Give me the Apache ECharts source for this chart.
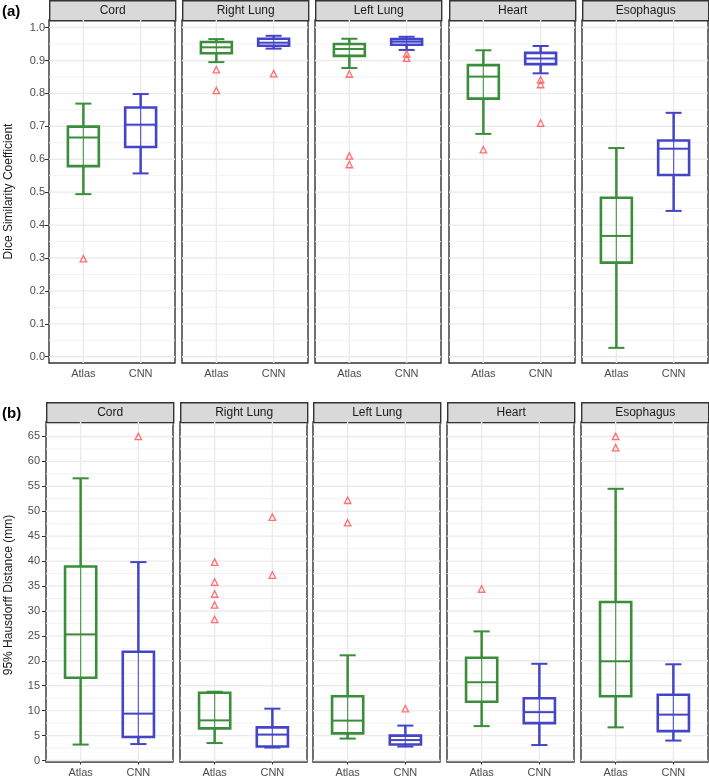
<!DOCTYPE html>
<html>
<head>
<meta charset="utf-8">
<script src="https://cdn.jsdelivr.net/npm/echarts@6/dist/echarts.min.js"></script>
<style>
html,body{margin:0;padding:0;background:#fff;}
#chart{width:709px;height:778px;}
</style>
</head>
<body>
<div id="chart"></div>
<script>
// ---------- data ----------
const organs = ['Cord', 'Right Lung', 'Left Lung', 'Heart', 'Esophagus'];
const methods = ['Atlas', 'CNN'];

// Dice: [lower whisker, Q1, median, Q3, upper whisker] per organ
const diceAtlas = [
  [0.494, 0.579, 0.666, 0.699, 0.769],
  [0.895, 0.922, 0.940, 0.956, 0.965],
  [0.877, 0.914, 0.935, 0.950, 0.966],
  [0.677, 0.784, 0.851, 0.886, 0.931],
  [0.027, 0.286, 0.367, 0.483, 0.634]
];
const diceCNN = [
  [0.557, 0.637, 0.705, 0.757, 0.798],
  [0.936, 0.945, 0.954, 0.966, 0.975],
  [0.932, 0.948, 0.957, 0.965, 0.972],
  [0.861, 0.889, 0.906, 0.923, 0.944],
  [0.443, 0.552, 0.632, 0.657, 0.741]
];
const diceAtlasOutliers = [[0.298], [0.872, 0.809], [0.859, 0.610, 0.584], [0.629], []];
const diceCNNOutliers = [[], [0.860], [0.920, 0.907], [0.841, 0.827, 0.710], []];

// 95% Hausdorff distance (mm)
const hdAtlas = [
  [3.2, 16.6, 25.3, 38.9, 56.6],
  [3.5, 6.45, 8.05, 13.6, 13.8],
  [4.4, 5.45, 8.0, 12.9, 21.1],
  [6.9, 11.8, 15.7, 20.6, 25.9],
  [6.65, 12.9, 19.9, 31.8, 54.5]
];
const hdCNN = [
  [3.3, 4.7, 9.4, 21.8, 39.8],
  [2.6, 2.8, 5.2, 6.65, 10.4],
  [2.8, 3.2, 4.1, 5.0, 7.0],
  [3.1, 7.5, 9.7, 12.5, 19.4],
  [4.0, 5.9, 9.2, 13.2, 19.3]
];
const hdAtlasOutliers = [[], [39.8, 35.8, 33.4, 31.2, 28.3], [52.2, 47.7], [34.4], [65.0, 62.75]];
const hdCNNOutliers = [[65.0], [48.8, 37.2], [10.4], [], []];

const diceTicks = [0, 0.1, 0.2, 0.3, 0.4, 0.5, 0.6, 0.7, 0.8, 0.9, 1.0];
const hdTicks = [0, 5, 10, 15, 20, 25, 30, 35, 40, 45, 50, 55, 60, 65];

const diceTitle = 'Dice Similarity Coefficient';
const hdTitle = '95% Hausdorff Distance (mm)';

// ---------- styles / layout ----------
const FONT = '"Liberation Sans", Arial, sans-serif';
const GREEN = '#3A8D3A';
const BLUE = '#4444C8';
const RED = '#FF4D4D';
const methodColors = [GREEN, BLUE];

const rows = [
  { tag: '(a)', title: diceTitle, top: 20, height: 343, lefts: [49, 182, 315, 449, 582], width: 126,
    min: -0.019, max: 1.023, ticks: diceTicks, fmt: v => v.toFixed(1),
    atlas: diceAtlas, cnn: diceCNN, atlasOut: diceAtlasOutliers, cnnOut: diceCNNOutliers, labelMargin: 4 },
  { tag: '(b)', title: hdTitle, top: 422, height: 342, lefts: [46, 180, 313, 447, 581], width: 127,
    min: -0.3, max: 67.9, ticks: hdTicks, fmt: v => String(v),
    atlas: hdAtlas, cnn: hdCNN, atlasOut: hdAtlasOutliers, cnnOut: hdCNNOutliers, labelMargin: 6 }
];

const grids = [], xAxes = [], yAxes = [], series = [], graphics = [];

rows.forEach((row, r) => {
  const step = row.ticks[1] - row.ticks[0];
  const minors = [];
  for (let i = 0; i < row.ticks.length - 1; i++) minors.push((row.ticks[i] + row.ticks[i + 1]) / 2);
  const lastMinor = row.ticks[row.ticks.length - 1] + step / 2;
  if (lastMinor < row.max) minors.push(lastMinor);

  organs.forEach((organ, p) => {
    const gi = grids.length;
    grids.push({
      left: row.lefts[p], top: row.top, width: row.width, height: row.height,
      show: true, borderColor: '#333333', borderWidth: 1.4, backgroundColor: '#ffffff'
    });
    xAxes.push({
      gridIndex: gi, type: 'value', min: 0.4, max: 2.6,
      axisLine: { show: false },
      splitLine: { show: false },
      axisTick: { show: true, customValues: [1, 2], length: 4, lineStyle: { color: '#333333', width: 1 } },
      axisLabel: { show: true, customValues: [1, 2], formatter: v => methods[Math.round(v) - 1],
        color: '#4D4D4D', fontSize: 11, fontFamily: FONT, margin: 5 }
    });
    yAxes.push({
      gridIndex: gi, type: 'value', min: row.min, max: row.max,
      axisLine: { show: false },
      splitLine: { show: false },
      axisTick: { show: p === 0, customValues: row.ticks, length: 4, lineStyle: { color: '#333333', width: 1 } },
      axisLabel: { show: p === 0, customValues: row.ticks, formatter: v => row.fmt(v),
        color: '#4D4D4D', fontSize: 11, fontFamily: FONT, margin: row.labelMargin }
    });

    // gridlines
    series.push({
      type: 'custom', xAxisIndex: gi, yAxisIndex: gi, silent: true, z: 1,
      data: [[0]],
      renderItem: (params, api) => {
        const cs = params.coordSys;
        const children = [];
        minors.forEach(v => {
          const y = api.coord([1, v])[1];
          children.push({ type: 'line', shape: { x1: cs.x, y1: y, x2: cs.x + cs.width, y2: y },
            style: { stroke: '#F0F0F0', lineWidth: 0.9 } });
        });
        row.ticks.forEach(v => {
          const y = api.coord([1, v])[1];
          children.push({ type: 'line', shape: { x1: cs.x, y1: y, x2: cs.x + cs.width, y2: y },
            style: { stroke: '#EBEBEB', lineWidth: 1.4 } });
        });
        [1, 2].forEach(v => {
          const x = api.coord([v, 0])[0];
          children.push({ type: 'line', shape: { x1: x, y1: cs.y, x2: x, y2: cs.y + cs.height },
            style: { stroke: '#EBEBEB', lineWidth: 1.4 } });
        });
        return { type: 'group', children };
      }
    });

    // boxes
    const boxData = [
      [1].concat(row.atlas[p]),
      [2].concat(row.cnn[p])
    ];
    series.push({
      type: 'custom', xAxisIndex: gi, yAxisIndex: gi, z: 3,
      data: boxData,
      renderItem: (params, api) => {
        const x = api.value(0);
        const col = methodColors[params.dataIndex];
        const c = v => api.coord([x, v]);
        const cx = c(0)[0];
        const yLow = c(api.value(1))[1], yQ1 = c(api.value(2))[1], yMed = c(api.value(3))[1],
              yQ3 = c(api.value(4))[1], yHigh = c(api.value(5))[1];
        const hb = api.coord([x + 0.27, 0])[0] - cx;
        const hc = api.coord([x + 0.14, 0])[0] - cx;
        const ln = (x1, y1, x2, y2, w, op) => ({ type: 'line', shape: { x1, y1, x2, y2 },
          style: { stroke: col, lineWidth: w, opacity: op == null ? 1 : op } });
        return {
          type: 'group',
          children: [
            ln(cx, yLow, cx, yQ1, 2.5),
            ln(cx, yQ3, cx, yHigh, 2.5),
            ln(cx, yQ1, cx, yQ3, 1.2, 0.85),
            { type: 'rect', shape: { x: cx - hb, y: yQ3, width: 2 * hb, height: yQ1 - yQ3 },
              style: { fill: 'none', stroke: col, lineWidth: 2.6 } },
            ln(cx - hb, yMed, cx + hb, yMed, 2),
            ln(cx - hc, yLow, cx + hc, yLow, 2),
            ln(cx - hc, yHigh, cx + hc, yHigh, 2)
          ]
        };
      }
    });

    // outliers
    const outData = row.atlasOut[p].map(v => [1, v]).concat(row.cnnOut[p].map(v => [2, v]));
    series.push({
      type: 'scatter', xAxisIndex: gi, yAxisIndex: gi, z: 4,
      symbol: 'triangle', symbolSize: 6.5,
      itemStyle: { color: 'rgba(0,0,0,0)', borderColor: RED, borderWidth: 1.3 },
      data: outData
    });

    // strip
    graphics.push({
      type: 'group', left: row.lefts[p], top: row.top - 20,
      children: [
        { type: 'rect', shape: { x: 0, y: 0, width: row.width, height: 20 },
          style: { fill: '#D9D9D9', stroke: '#333333', lineWidth: 1.4 } },
        { type: 'text', x: row.width / 2, y: 10,
          style: { text: organ, fill: '#1A1A1A', font: '12px ' + FONT, textAlign: 'center', textVerticalAlign: 'middle' } }
      ]
    });
  });

  graphics.push({ type: 'text', x: 2, y: row.top - 8,
    style: { text: row.tag, fill: '#000', font: 'bold 15px ' + FONT, textAlign: 'left', textVerticalAlign: 'middle' } });
  graphics.push({ type: 'text', x: 9, y: row.top + row.height / 2 + (r === 0 ? 0 : 2), rotation: Math.PI / 2,
    style: { text: row.title, fill: '#1A1A1A', font: '12px ' + FONT, textAlign: 'center', textVerticalAlign: 'middle' } });
});

const chart = echarts.init(document.getElementById('chart'), null, { renderer: 'canvas' });
chart.setOption({
  animation: false,
  backgroundColor: '#ffffff',
  grid: grids,
  xAxis: xAxes,
  yAxis: yAxes,
  series: series,
  graphic: graphics
});
</script>
</body>
</html>
